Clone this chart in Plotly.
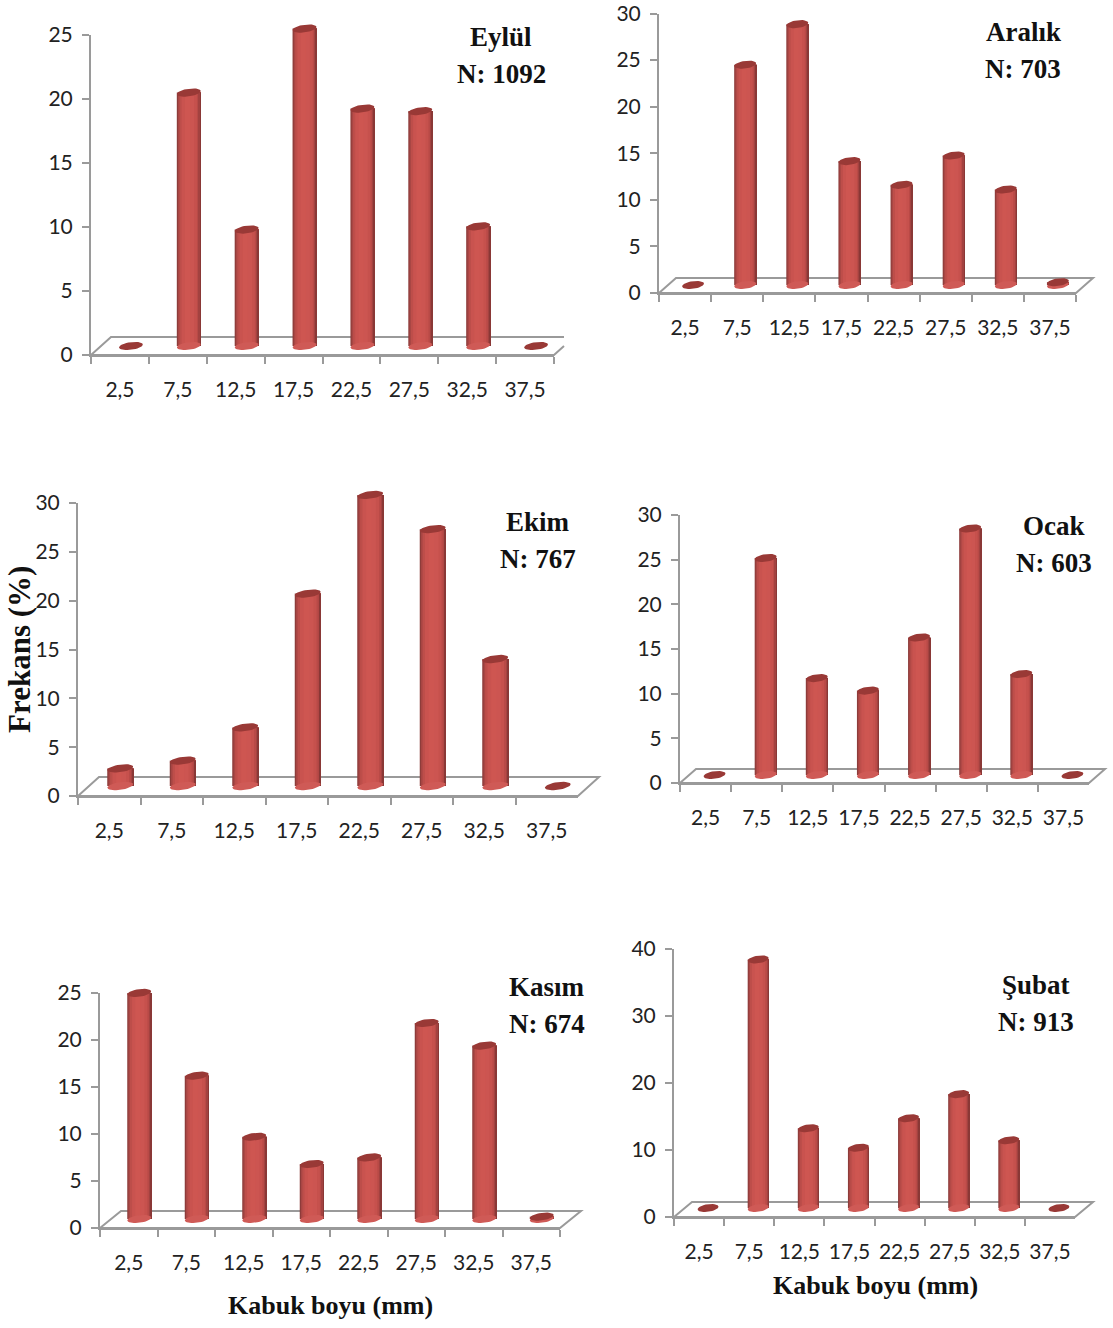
import math
import plotly.graph_objects as go

W, H = 1113, 1328
categories = ["2,5", "7,5", "12,5", "17,5", "22,5", "27,5", "32,5", "37,5"]

eylul = [0, 19.8, 9.1, 24.8, 18.55, 18.35, 9.35, 0]
aralik = [0, 23.65, 28.0, 13.3, 10.75, 13.9, 10.25, 0.3]
ekim = [1.8, 2.6, 6.0, 19.7, 29.8, 26.3, 13.0, 0]
ocak = [0, 24.3, 10.85, 9.45, 15.4, 27.6, 11.3, 0]
kasim = [24.05, 15.25, 8.75, 5.85, 6.55, 20.85, 18.45, 0.25]
subat = [0, 37.1, 11.9, 9.0, 13.4, 17.0, 10.1, 0]

# geometry in pixels: axis left/right, y of zero, y of max, depth, bar shift, bar width, base centre
panels = [
    dict(t=["Eylül", "N: 1092"], v=eylul, ymax=25, dt=5, x0=91, x1=554, y0=355, yt=35, dx=20, dy=18, sh=11, w=24, yb=346, tx=501, ty=37, cut=564),
    dict(t=["Aralık", "N: 703"], v=aralik, ymax=30, dt=5, x0=659, x1=1076, y0=293, yt=13.5, dx=17, dy=15, sh=8, w=22, yb=285, tx=1023, ty=32, cut=None),
    dict(t=["Ekim", "N: 767"], v=ekim, ymax=30, dt=5, x0=78, x1=578, y0=796, yt=503, dx=21, dy=19, sh=11, w=26, yb=786, tx=538, ty=522, cut=None),
    dict(t=["Ocak", "N: 603"], v=ocak, ymax=30, dt=5, x0=680, x1=1089, y0=783, yt=515, dx=16, dy=14, sh=9, w=22, yb=775, tx=1054, ty=526, cut=None),
    dict(t=["Kasım", "N: 674"], v=kasim, ymax=25, dt=5, x0=100, x1=560, y0=1228, yt=993, dx=21, dy=17, sh=10.5, w=24, yb=1219, tx=547, ty=987, cut=None),
    dict(t=["Şubat", "N: 913"], v=subat, ymax=40, dt=10, x0=674, x1=1075, y0=1217, yt=949, dx=18, dy=15, sh=9, w=21, yb=1208, tx=1036, ty=985, cut=None),
]

shade_stops = [0, .05, .11, .2, .34, .55, .72, .84, .92, .97]
shade_cols = ["#8d3c3a", "#a84644", "#bd4e4a", "#c9534f", "#ce5651", "#cc5551", "#c6514d", "#b84a47", "#a34240", "#8a3836"]

TICK_FONT = dict(family="Lato, Open Sans, sans-serif", size=21, color="#222222")
SERIF = "Liberation Serif, serif"
AXC = "#9a9a9a"

fig = go.Figure()
shapes, annos = [], []


def px(v):
    return v / W


def py(v):
    return 1 - v / H


def ellipse(cx, cy, a, b, ux, uy, tilt=-8):
    th = math.radians(tilt)
    xs, ys = [], []
    for k in range(37):
        t = 2 * math.pi * k / 36
        ex, ey = a * math.cos(t), b * math.sin(t)
        xs.append(cx + (ex * math.cos(th) - ey * math.sin(th)) / ux)
        ys.append(cy - (ex * math.sin(th) + ey * math.cos(th)) / uy)
    return xs, ys


for n, p in enumerate(panels):
    a = 2 * n + 1
    b = a + 1
    ax_vis, ay_vis = f"xaxis{a if a > 1 else ''}", f"yaxis{a if a > 1 else ''}"
    ax_bar, ay_bar = f"xaxis{b}", f"yaxis{b}"
    xv, yv = f"x{a if a > 1 else ''}", f"y{a if a > 1 else ''}"
    xb, yb = f"x{b}", f"y{b}"

    step = (p["x1"] - p["x0"]) / 8
    sy = (p["y0"] - p["yt"]) / p["ymax"]

    # visible axes
    fig.add_trace(go.Scatter(x=categories, y=p["v"], xaxis=xv, yaxis=yv, mode="markers",
                             marker=dict(opacity=0), hoverinfo="skip", showlegend=False))
    fig.layout[ax_vis] = dict(
        domain=[px(p["x0"]), px(p["x1"])], anchor=yv, type="category",
        categoryorder="array", categoryarray=categories, range=[-0.5, 7.5],
        tickson="boundaries", ticks="outside", ticklen=7, tickwidth=2, tickcolor=AXC,
        showline=True, linecolor=AXC, linewidth=2, showgrid=False, zeroline=False,
        tickfont=TICK_FONT, ticklabelstandoff=15, tickangle=0, ticklabeloverflow="allow")
    fig.layout[ay_vis] = dict(
        domain=[py(p["y0"]), py(p["yt"])], anchor=xv, range=[0, p["ymax"]], dtick=p["dt"], tick0=0,
        ticks="outside", ticklen=7, tickwidth=2, tickcolor=AXC,
        showline=True, linecolor=AXC, linewidth=2, showgrid=False, zeroline=False,
        tickfont=TICK_FONT, ticklabelstandoff=5, ticklabeloverflow="allow")

    # hidden axes carrying the cylinders (shifted into the chart's depth)
    L, R = p["x0"], min(p["x1"] + 36, W)
    T, B = max(p["yt"] - 25, 1), p["y0"] + 2
    org = p["x0"] + p["sh"]
    fig.layout[ax_bar] = dict(domain=[px(L), px(R)], anchor=yb, visible=False,
                              range=[(L - org) / step, (R - org) / step])
    fig.layout[ay_bar] = dict(domain=[py(B), py(T)], anchor=xb, visible=False,
                              range=[(p["yb"] - B) / sy, (p["yb"] - T) / sy])

    idx = [i + 0.5 for i in range(8)]
    wd = p["w"] / step
    for frac, col in zip(shade_stops, shade_cols):
        fig.add_trace(go.Bar(x=idx, y=p["v"], base=0, xaxis=xb, yaxis=yb,
                             width=wd * (1 - frac), offset=(frac - 0.5) * wd,
                             marker=dict(color=col, line=dict(width=0)),
                             hoverinfo="skip", showlegend=False))

    tx, ty, bx, by = [], [], [], []
    for x, v in zip(idx, p["v"]):
        ex, ey = ellipse(x, v, p["w"] / 2, 3.8, step, sy)
        tx += ex + [None]
        ty += ey + [None]
        if v > 0:
            ex, ey = ellipse(x, 0, p["w"] / 2, 3.8, step, sy)
            bx += ex + [None]
            by += ey + [None]
    fig.add_trace(go.Scatter(x=bx, y=by, xaxis=xb, yaxis=yb, mode="lines", fill="toself",
                             fillcolor="#cf5a56", line=dict(width=0), hoverinfo="skip", showlegend=False))
    fig.add_trace(go.Scatter(x=tx, y=ty, xaxis=xb, yaxis=yb, mode="lines", fill="toself",
                             fillcolor="#993936", line=dict(width=0), hoverinfo="skip", showlegend=False))

    # floor
    xb0, xb1, y_back = p["x0"] + p["dx"], p["x1"] + p["dx"], p["y0"] - p["dy"]
    if p["cut"] is None:
        X = [p["x0"], xb0, xb1, p["x1"]]
        Y = [p["y0"], y_back, y_back, p["y0"]]
        path = "M " + " L ".join(f"{px(i):.5f},{py(j):.5f}" for i, j in zip(X, Y)) + " Z"
    else:
        frac = (p["cut"] - p["x1"]) / p["dx"]
        X = [p["cut"], xb0, p["x0"], p["x1"], p["cut"]]
        Y = [y_back, y_back, p["y0"], p["y0"], p["y0"] - frac * p["dy"]]
        path = "M " + " L ".join(f"{px(i):.5f},{py(j):.5f}" for i, j in zip(X, Y))
    shapes.append(dict(type="path", xref="paper", yref="paper", path=path, layer="below",
                       line=dict(color=AXC, width=2)))

    # panel titles
    for k, line in enumerate(p["t"]):
        annos.append(dict(text=f"<b>{line}</b>", xref="paper", yref="paper", showarrow=False,
                          x=px(p["tx"]), y=py(p["ty"] + 37 * k), xanchor="center", yanchor="middle",
                          font=dict(family=SERIF, size=27, color="#111111")))

annos.append(dict(text="<b>Frekans (%)</b>", xref="paper", yref="paper", showarrow=False, textangle=-90,
                  x=px(19), y=py(650), xanchor="center", yanchor="middle",
                  font=dict(family=SERIF, size=31, color="#111111")))
for cx, cy in [(330, 1305), (875, 1285)]:
    annos.append(dict(text="<b>Kabuk boyu (mm)</b>", xref="paper", yref="paper", showarrow=False,
                      x=px(cx), y=py(cy), xanchor="center", yanchor="middle",
                      font=dict(family=SERIF, size=26, color="#111111")))

fig.update_layout(width=W, height=H, margin=dict(l=0, r=0, t=0, b=0, pad=0, autoexpand=False), autosize=False,
                  paper_bgcolor="white", plot_bgcolor="rgba(0,0,0,0)", barmode="overlay",
                  showlegend=False, shapes=shapes, annotations=annos)
fig.write_html("out.html", post_script="document.body.style.margin='0';", config=dict(displayModeBar=False))
